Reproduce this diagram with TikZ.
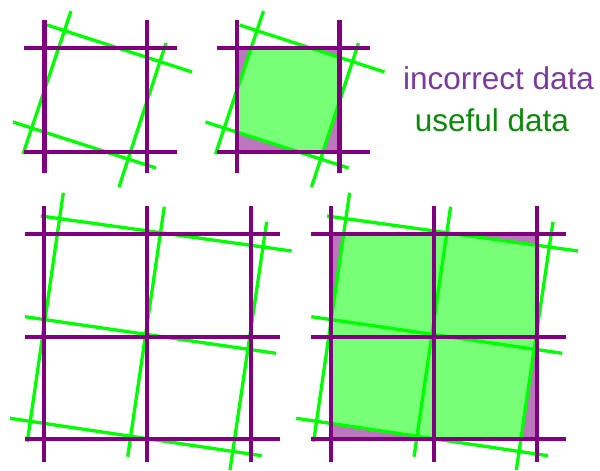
\documentclass[tikz,border=0pt]{standalone}
\usepackage{fontspec}
\setmainfont{Liberation Sans}
\definecolor{gridpurple}{HTML}{800080}
\definecolor{lightpurple}{HTML}{BB77BB}
\definecolor{linegreen}{HTML}{00FF00}
\definecolor{fillgreen}{HTML}{77FF77}
\definecolor{textpurple}{HTML}{7A3A9E}
\definecolor{textgreen}{HTML}{0A8A0A}
\begin{document}
\begin{tikzpicture}[x=1pt,y=-1pt,
  gridline/.style={draw=gridpurple,line width=4.2pt},
  measline/.style={draw=linegreen,line width=3.3pt},
  badfill/.style={fill=lightpurple},
  goodfill/.style={fill=fillgreen},
  legend/.style={font=\fontsize{31.5}{36}\selectfont,inner sep=0pt,anchor=base west}]
\useasboundingbox (0,0) rectangle (600,471);

% ---------- small panels: coordinates ----------
\foreach \p/\dx in {A/0,B/192.5}{
  \begin{scope}[shift={(\dx,0)}]
    \coordinate (\p T1) at (47,25);   \coordinate (\p T2) at (192,72);
    \coordinate (\p B1) at (13,122);  \coordinate (\p B2) at (156,168);
    \coordinate (\p L1) at (71,11);   \coordinate (\p L2) at (23,154);
    \coordinate (\p R1) at (166,43);  \coordinate (\p R2) at (119,187);
    \coordinate (\p S1) at (44.5,48); \coordinate (\p S2) at (147,152);
  \end{scope}
}
% ---------- big panels: coordinates ----------
\foreach \p/\dx in {C/0,D/286.3}{
  \begin{scope}[shift={(\dx,0)}]
    \coordinate (\p T1) at (40.7,216);  \coordinate (\p T2) at (291.7,251);
    \coordinate (\p M1) at (25,316.7);  \coordinate (\p M2) at (276,353.3);
    \coordinate (\p B1) at (10,418.3);  \coordinate (\p B2) at (261.7,455.7);
    \coordinate (\p L1) at (63.3,192.7);\coordinate (\p L2) at (27.3,441.7);
    \coordinate (\p C1) at (164.3,206.7);\coordinate (\p C2) at (127.7,456.7);
    \coordinate (\p R1) at (266.7,221.7);\coordinate (\p R2) at (230,470);
    \coordinate (\p S1) at (44.3,234);  \coordinate (\p S2) at (250.7,439.3);
  \end{scope}
}

% ---------- fills ----------
\foreach \p in {B,D}{
  \fill[badfill] (\p S1) rectangle (\p S2);
  \begin{scope}
    \clip (\p S1) rectangle (\p S2);
    \fill[goodfill] (intersection of \p T1--\p T2 and \p L1--\p L2)
      -- (intersection of \p T1--\p T2 and \p R1--\p R2)
      -- (intersection of \p B1--\p B2 and \p R1--\p R2)
      -- (intersection of \p B1--\p B2 and \p L1--\p L2) -- cycle;
  \end{scope}
}

% ---------- green measured lines ----------
\foreach \p in {A,B}{
  \draw[measline] (\p T1) -- (\p T2);
  \draw[measline] (\p B1) -- (\p B2);
  \draw[measline] (\p L1) -- (\p L2);
  \draw[measline] (\p R1) -- (\p R2);
}
\foreach \p in {C,D}{
  \draw[measline] (\p T1) -- (\p T2);
  \draw[measline] (\p M1) -- (\p M2);
  \draw[measline] (\p B1) -- (\p B2);
  \draw[measline] (\p L1) -- (\p L2);
  \draw[measline] (\p C1) -- (\p C2);
  \draw[measline] (\p R1) -- (\p R2);
}

% ---------- purple grid lines ----------
\foreach \dx in {0,192.5}{
  \begin{scope}[shift={(\dx,0)}]
    \foreach \x in {44.5,147} \draw[gridline] (\x,20) -- (\x,173);
    \foreach \y in {48,152} \draw[gridline] (24,\y) -- (177,\y);
  \end{scope}
}
\foreach \dx in {0,286.3}{
  \begin{scope}[shift={(\dx,0)}]
    \foreach \x in {44.3,147.3,250.7} \draw[gridline] (\x,206) -- (\x,461.7);
    \foreach \y in {234,337.3,439.3} \draw[gridline] (25,\y) -- (280,\y);
  \end{scope}
}

% ---------- legend ----------
\node[legend,text=textpurple] (lbad) at (403,89.3) {incorrect data};
\node[legend,text=textgreen] (lgood) at (414.7,131) {useful data};
\end{tikzpicture}
\end{document}
